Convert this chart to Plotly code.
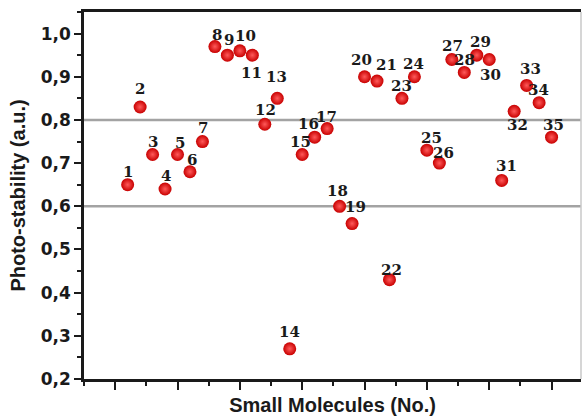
import plotly.graph_objects as go

# ---- data ----
molecule_no = list(range(1, 36))
photo_stability = [0.65, 0.83, 0.72, 0.64, 0.72, 0.68, 0.75, 0.97, 0.95, 0.96,
                   0.95, 0.79, 0.85, 0.27, 0.72, 0.76, 0.78, 0.60, 0.56, 0.90,
                   0.89, 0.43, 0.85, 0.90, 0.73, 0.70, 0.94, 0.91, 0.95, 0.94,
                   0.66, 0.82, 0.88, 0.84, 0.76]
labels = [str(n) for n in molecule_no]
ref_levels = [0.8, 0.6]
y_ticks = [0.2, 0.3, 0.4, 0.5, 0.6, 0.7, 0.8, 0.9, 1.0]

# label pixel offsets (dx, dy) – layout only
label_shift = {
    1: (0, 13), 2: (0, 18), 3: (0, 12), 4: (1, 13), 5: (2, 11), 6: (2, 12),
    7: (1, 14), 8: (2, 12), 9: (2, 15), 10: (6, 15), 11: (-1, -18), 12: (1, 14),
    13: (-1, 21), 14: (0, 17), 15: (-2, 12), 16: (-6, 13), 17: (-1, 12),
    18: (-2, 15), 19: (3, 17), 20: (-3, 17), 21: (9, 16), 22: (2, 10),
    23: (0, 12), 24: (-1, 13), 25: (5, 12), 26: (4, 10), 27: (1, 13),
    28: (0, 12), 29: (4, 13), 30: (1, -16), 31: (5, 14), 32: (3, -14),
    33: (4, 16), 34: (-1, 13), 35: (2, 12),
}

fig = go.Figure()

for lv in ref_levels:
    fig.add_shape(type="line", xref="paper", x0=0, x1=1, yref="y", y0=lv, y1=lv,
                  line=dict(color="#a3a3a3", width=2.5), layer="below")

# faint right frame edge
fig.add_shape(type="line", xref="paper", x0=1, x1=1, yref="paper", y0=0, y1=1,
              line=dict(color="#c8c8c8", width=1.5), layer="below")

fig.add_trace(go.Scatter(
    x=molecule_no, y=photo_stability, mode="markers",
    marker=dict(size=13, color="#c80000",
                gradient=dict(type="radial", color="#ff5a5a"),
                line=dict(width=0)),
    hoverinfo="x+y", showlegend=False,
))

for n, v, t in zip(molecule_no, photo_stability, labels):
    dx, dy = label_shift[n]
    fig.add_annotation(x=n, y=v, text=t, showarrow=False, xshift=dx, yshift=dy,
                       font=dict(family="DejaVu Serif", size=15, color="#1a1a1a",
                                 weight="bold"))

fig.update_layout(
    width=582, height=416,
    margin=dict(l=84, r=1, t=12, b=37),
    paper_bgcolor="white", plot_bgcolor="white",
    separators=",.",
    showlegend=False,
)

fig.update_xaxes(
    range=[-2.5, 37.36], showgrid=False, zeroline=False,
    showline=True, linecolor="#1a1a1a", linewidth=2.5, mirror=True,
    ticks="outside", ticklen=8, tickwidth=2, tickcolor="#1a1a1a",
    tick0=0, dtick=5, showticklabels=False,
    minor=dict(ticks="outside", ticklen=4, tickwidth=2, dtick=2.5, tick0=0,
               tickcolor="#1a1a1a"),
    title=dict(text="Small Molecules (No.)", standoff=14,
               font=dict(family="Liberation Sans", size=20, color="#1a1a1a",
                         weight="bold")),
    automargin=False,
)
fig.update_yaxes(
    range=[0.2, 1.05], showgrid=False, zeroline=False,
    showline=True, linecolor="#1a1a1a", linewidth=2.5, mirror=False,
    ticks="outside", ticklen=7, tickwidth=2, tickcolor="#1a1a1a",
    tickvals=y_ticks, tickformat=".1f",
    tickfont=dict(family="DejaVu Sans", size=17, color="#1a1a1a", weight="bold"),
    minor=dict(ticks="outside", ticklen=4, tickwidth=2, dtick=0.05, tick0=0.2,
               tickcolor="#1a1a1a"),
    title=dict(text="Photo-stability (a.u.)", standoff=10,
               font=dict(family="Liberation Sans", size=20, color="#1a1a1a",
                         weight="bold")),
    automargin=False,
)

fig.write_html(
    "out.html",
    config={"displayModeBar": False},
    post_script="document.body.style.margin='0';document.body.style.overflow='hidden';",
)
